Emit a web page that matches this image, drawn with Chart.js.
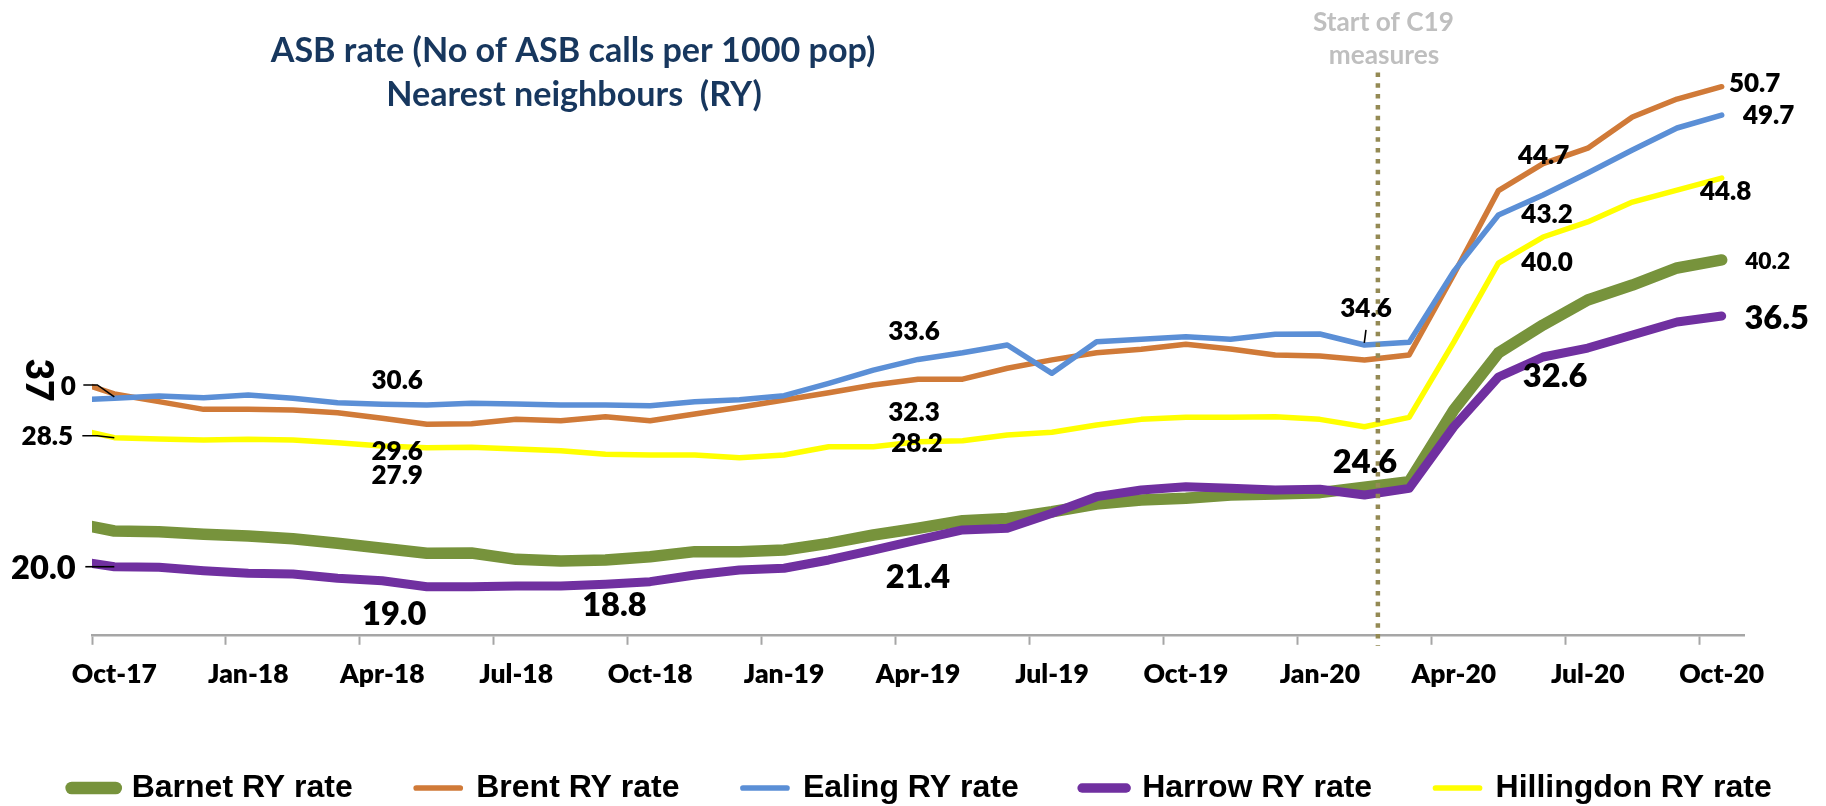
<!DOCTYPE html>
<html>
<head>
<meta charset="utf-8">
<script src="https://cdn.jsdelivr.net/npm/chart.js@4.4.1/dist/chart.umd.min.js"></script>
<style>
html,body{margin:0;padding:0;background:#ffffff;overflow:hidden;}
#wrap{width:1826px;height:806px;position:relative;}
canvas{display:block;}
</style>
</head>
<body>
<div id="wrap"><canvas id="chart" width="1826" height="806"></canvas></div>
<script>
// ---------------- DATA ----------------
const months = ['Sep-17','Oct-17','Nov-17','Dec-17','Jan-18','Feb-18','Mar-18','Apr-18','May-18','Jun-18',
  'Jul-18','Aug-18','Sep-18','Oct-18','Nov-18','Dec-18','Jan-19','Feb-19','Mar-19','Apr-19','May-19','Jun-19',
  'Jul-19','Aug-19','Sep-19','Oct-19','Nov-19','Dec-19','Jan-20','Feb-20','Mar-20','Apr-20','May-20','Jun-20',
  'Jul-20','Aug-20','Sep-20','Oct-20'];

const tickLabels = ['Oct-17','Jan-18','Apr-18','Jul-18','Oct-18','Jan-19','Apr-19','Jul-19','Oct-19','Jan-20','Apr-20','Jul-20','Oct-20'];

const seriesNames = ['Barnet RY rate','Brent RY rate','Ealing RY rate','Harrow RY rate','Hillingdon RY rate'];

const barnet = [22.80,22.24,22.19,22.03,21.92,21.74,21.44,21.12,20.79,20.81,20.40,20.29,20.36,20.57,20.90,20.90,
  21.01,21.44,21.98,22.42,22.91,23.06,23.49,23.99,24.25,24.36,24.58,24.64,24.73,25.08,25.44,30.10,33.80,35.62,
  37.24,38.21,39.32,39.84];
const brent = [32.08,31.14,30.64,30.14,30.14,30.10,29.92,29.56,29.17,29.20,29.49,29.40,29.66,29.40,29.84,30.27,
  30.75,31.22,31.72,32.10,32.10,32.81,33.35,33.82,34.04,34.36,34.06,33.67,33.60,33.35,33.67,38.90,44.34,46.10,
  47.10,49.12,50.29,51.09];
const ealing = [30.73,30.86,31.01,30.90,31.07,30.86,30.57,30.47,30.42,30.53,30.49,30.42,30.42,30.37,30.63,30.76,
  31.03,31.83,32.69,33.38,33.81,34.32,32.48,34.53,34.69,34.86,34.69,35.01,35.03,34.32,34.49,39.10,42.76,44.06,
  45.49,46.98,48.41,49.25];
const harrow = [20.36,19.92,19.88,19.66,19.49,19.45,19.17,19.01,18.62,18.62,18.67,18.67,18.78,18.95,19.38,19.71,
  19.82,20.36,21.00,21.66,22.31,22.42,23.39,24.47,24.90,25.12,25.01,24.90,24.95,24.58,25.01,29.01,32.24,33.54,
  34.12,34.97,35.81,36.20];
const hillingdon = [28.95,28.30,28.21,28.15,28.19,28.15,27.97,27.76,27.65,27.68,27.56,27.45,27.22,27.18,27.18,27.00,
  27.18,27.71,27.71,28.04,28.10,28.47,28.65,29.12,29.49,29.62,29.62,29.66,29.49,29.01,29.62,34.50,39.64,41.33,
  42.31,43.60,44.38,45.16];

// label texts shown on the chart, attached to series / month
const dataLabels = [
  {s:1, m:'Oct-17', t:'0',    f:'s',  dx:-46, dy:-7,  leader:[[-31,-9],[-17,-9],[0,3]]},
  {s:1, m:'Oct-17', t:'37',   f:'r',  dx:-76, dy:-14, rot:true},
  {s:4, m:'Oct-17', t:'28.5', f:'s',  dx:-67, dy:-1,  leader:[[-32,-2],[-17,-2],[0,0]]},
  {s:3, m:'Oct-17', t:'20.0', f:'l',  dx:-71, dy:2,   leader:[[-29,0],[0,0]]},
  {s:2, m:'Apr-18', t:'30.6', f:'s',  dx:15,  dy:-24},
  {s:1, m:'Apr-18', t:'29.6', f:'s',  dx:15,  dy:33},
  {s:4, m:'Apr-18', t:'27.9', f:'s',  dx:15,  dy:30},
  {s:3, m:'Apr-18', t:'19.0', f:'l',  dx:12,  dy:34},
  {s:3, m:'Sep-18', t:'18.8', f:'l',  dx:9,   dy:21},
  {s:3, m:'Apr-19', t:'21.4', f:'l',  dx:0,   dy:38},
  {s:2, m:'Apr-19', t:'33.6', f:'s',  dx:-4,  dy:-28},
  {s:1, m:'Apr-19', t:'32.3', f:'s',  dx:-4,  dy:33},
  {s:4, m:'Apr-19', t:'28.2', f:'s',  dx:-1,  dy:2},
  {s:2, m:'Feb-20', t:'34.6', f:'s',  dx:1.5, dy:-36, leader:[[1.5,-15],[-0.2,-2]]},
  {s:3, m:'Feb-20', t:'24.6', f:'l',  dx:0.5, dy:-32},
  {s:1, m:'Jun-20', t:'44.7', f:'s',  dx:0.6, dy:-8},
  {s:2, m:'Jun-20', t:'43.2', f:'s',  dx:4,   dy:20},
  {s:4, m:'Jun-20', t:'40.0', f:'s',  dx:4,   dy:26},
  {s:3, m:'Jun-20', t:'32.6', f:'l',  dx:12,  dy:20},
  {s:1, m:'Oct-20', t:'50.7', f:'s',  dx:33,  dy:-3},
  {s:2, m:'Oct-20', t:'49.7', f:'s',  dx:47,  dy:1},
  {s:4, m:'Oct-20', t:'44.8', f:'s',  dx:4,   dy:14},
  {s:0, m:'Oct-20', t:'40.2', f:'xs', dx:46,  dy:2},
  {s:3, m:'Oct-20', t:'36.5', f:'l',  dx:55,  dy:2}
];

const titleLines = ['ASB rate (No of ASB calls per 1000 pop)', 'Nearest neighbours  (RY)'];
const c19Lines = ['Start of C19', 'measures'];
const C19_MARK = 28.8;   // months after start of Oct-17 (late Feb-20)

// ---------------- STYLE / GEOMETRY ----------------
const FAMILY = 'Lato, "Open Sans", "DejaVu Sans", sans-serif';
const LEG_FAMILY = '"Liberation Sans", Arial, sans-serif';
const LAB_WEIGHT = '800';
const colors = ['#77933C', '#D07A38', '#5B8FD6', '#7030A0', '#FFFF00'];
const widths = [11.5, 5.5, 5.5, 9, 5.5];
const legWidths = [12.7, 5.7, 5.7, 9.5, 5.7];
const drawOrder = [4, 3, 2, 1, 0];   // later series on top
const W = 1826, H = 806;
const PLOT_TOP = 26.5, PLOT_BOTTOM = 634.8, PLOT_LEFT = 92, PLOT_RIGHT = 1744;
const Y_MIN = 15.5, Y_MAX = 55;
const X_MIN = 0, X_MAX = 37;
const AXIS_START = months.indexOf('Oct-17');

const mctx = document.createElement('canvas').getContext('2d');
function fitFont(text, target, fam, weight) {
  mctx.font = (weight || 'bold') + ' 100px ' + (fam || FAMILY);
  return 100 * target / mctx.measureText(text).width;
}
function textW(text, size, fam) {
  mctx.font = 'bold ' + size + 'px ' + (fam || FAMILY);
  return mctx.measureText(text).width;
}
const FS_TITLE = fitFont(titleLines[0], 605);
const FS_C19 = fitFont(c19Lines[0], 141);
const FS_TICK = fitFont('Oct-17', 85, FAMILY, LAB_WEIGHT);
const FS_LEG = 32;
const FS_LAB = {
  s: fitFont('30.6', 51.5, FAMILY, LAB_WEIGHT),
  l: fitFont('20.0', 64.5, FAMILY, LAB_WEIGHT),
  xs: fitFont('40.2', 45, FAMILY, LAB_WEIGHT),
  r: fitFont('37', 43, FAMILY, LAB_WEIGHT)
};

// legend geometry
const LEG_BOX = 44, LEG_SPAN = 1700, LEG_CENTER = 921.7;
const legItemsW = seriesNames.reduce((a, n) => a + LEG_BOX + FS_LEG / 2 + textW(n, FS_LEG, LEG_FAMILY), 0);
const LEG_P = Math.max(10, (LEG_SPAN - legItemsW) / 4);
const LEG_MAXW = LEG_SPAN + 2 * LEG_P + 8;
const PAD_LEFT = (2 * LEG_CENTER - LEG_MAXW) / 2;
const PAD_RIGHT = W - LEG_MAXW - PAD_LEFT;
const LEG_TEXT_Y = 788;
const PAD_BOTTOM = H - LEG_TEXT_Y - 10 - FS_LEG / 2;
const LEG_TOP = H - PAD_BOTTOM - (FS_LEG + LEG_P + 10);
const TICK_LEN = 10;
const TICK_Y = 674;
const TICK_PAD = TICK_Y - PLOT_BOTTOM - TICK_LEN - 0.6 * FS_TICK;
const HALF_MONTH_PX = (PLOT_RIGHT - PLOT_LEFT) / (X_MAX - X_MIN) / 2;

const xOf = (k) => k - AXIS_START + 0.5;
const seriesData = [barnet, brent, ealing, harrow, hillingdon];

const datasets = seriesData.map((arr, si) => ({
  label: seriesNames[si],
  data: arr.map((v, k) => ({x: xOf(k), y: v})),
  borderColor: colors[si],
  backgroundColor: colors[si],
  borderWidth: widths[si],
  borderCapStyle: 'round',
  borderJoinStyle: 'round',
  pointRadius: 0,
  pointHoverRadius: 0,
  tension: 0,
  fill: false,
  order: drawOrder[si],
  yAxisID: 'y'
}));

const overlay = {
  id: 'overlay',
  afterDatasetsDraw(chart) {
    const {ctx} = chart;
    const xs = chart.scales.x, ys = chart.scales.y;
    ctx.save();
    // C19 marker
    const xc = xs.getPixelForValue(C19_MARK);
    ctx.strokeStyle = '#948A54';
    ctx.lineWidth = 4.5;
    ctx.setLineDash([4.5, 6.3]);
    ctx.beginPath();
    ctx.moveTo(xc, 72.5);
    ctx.lineTo(xc, ys.bottom + 11);
    ctx.stroke();
    ctx.setLineDash([]);

    // data labels
    ctx.fillStyle = '#000';
    ctx.textAlign = 'center';
    ctx.textBaseline = 'middle';
    dataLabels.forEach(l => {
      const k = months.indexOf(l.m);
      const px = xs.getPixelForValue(xOf(k));
      const py = ys.getPixelForValue(seriesData[l.s][k]);
      if (l.leader) {
        ctx.strokeStyle = '#000';
        ctx.lineWidth = 1.6;
        ctx.beginPath();
        l.leader.forEach((p, i) => {
          if (i === 0) ctx.moveTo(px + p[0], py + p[1]); else ctx.lineTo(px + p[0], py + p[1]);
        });
        ctx.stroke();
      }
      ctx.font = LAB_WEIGHT + ' ' + FS_LAB[l.f] + 'px ' + FAMILY;
      if (l.rot) {
        ctx.save();
        ctx.translate(px + l.dx, py + l.dy);
        ctx.rotate(Math.PI / 2);
        ctx.fillText(l.t, 0, 0);
        ctx.restore();
      } else {
        ctx.fillText(l.t, px + l.dx, py + l.dy);
      }
    });
    ctx.restore();
  },
  afterDraw(chart) {
    const {ctx} = chart;
    ctx.save();
    ctx.textAlign = 'center';
    ctx.textBaseline = 'middle';
    ctx.fillStyle = '#17375E';
    ctx.font = 'bold ' + FS_TITLE + 'px ' + FAMILY;
    ctx.fillText(titleLines[0], 573, 51);
    ctx.fillText(titleLines[1], 574, 95);
    ctx.fillStyle = '#BFBFBF';
    ctx.font = 'bold ' + FS_C19 + 'px ' + FAMILY;
    ctx.fillText(c19Lines[0], 1383.5, 23);
    ctx.fillText(c19Lines[1], 1384, 56);
    ctx.restore();
  }
};

const hiddenAxis = (pos, w) => ({
  type: 'linear', position: pos, display: true,
  ticks: {display: false}, grid: {display: false}, border: {display: false},
  afterFit(s) { s.width = w; }
});

new Chart(document.getElementById('chart'), {
  type: 'line',
  data: {datasets},
  options: {
    responsive: false,
    animation: false,
    devicePixelRatio: 1,
    layout: {padding: {left: PAD_LEFT, right: PAD_RIGHT, top: PLOT_TOP, bottom: PAD_BOTTOM}},
    plugins: {
      title: {display: false},
      tooltip: {enabled: false},
      legend: {
        display: true,
        position: 'bottom',
        align: 'center',
        labels: {
          usePointStyle: true,
          pointStyle: 'line',
          pointStyleWidth: LEG_BOX,
          padding: LEG_P,
          color: '#000',
          font: {family: LEG_FAMILY, size: FS_LEG, weight: 'bold'},
          sort: (a, b) => a.datasetIndex - b.datasetIndex,
          generateLabels(chart) {
            const items = Chart.defaults.plugins.legend.labels.generateLabels(chart);
            items.forEach(it => { it.lineWidth = legWidths[it.datasetIndex]; it.lineCap = 'round'; });
            return items;
          }
        }
      }
    },
    scales: {
      x: {
        type: 'linear',
        min: X_MIN, max: X_MAX,
        afterBuildTicks(s) {
          s.ticks = tickLabels.map(t => ({value: months.indexOf(t) - AXIS_START}));
        },
        afterFit(s) { s.height = LEG_TOP - PLOT_BOTTOM; },
        ticks: {
          autoSkip: false, maxRotation: 0, minRotation: 0,
          padding: TICK_PAD,
          labelOffset: HALF_MONTH_PX,
          color: '#000',
          font: {family: FAMILY, size: FS_TICK, weight: LAB_WEIGHT},
          callback(v) { return months[v + AXIS_START]; }
        },
        grid: {display: true, drawOnChartArea: false, drawTicks: true, tickLength: TICK_LEN, tickWidth: 2, tickColor: '#A6A6A6'},
        border: {display: true, color: '#A6A6A6', width: 2.5}
      },
      y: Object.assign(hiddenAxis('left', PLOT_LEFT - PAD_LEFT), {min: Y_MIN, max: Y_MAX}),
      y2: hiddenAxis('right', W - PAD_RIGHT - PLOT_RIGHT)
    }
  },
  plugins: [overlay]
});
</script>
</body>
</html>
